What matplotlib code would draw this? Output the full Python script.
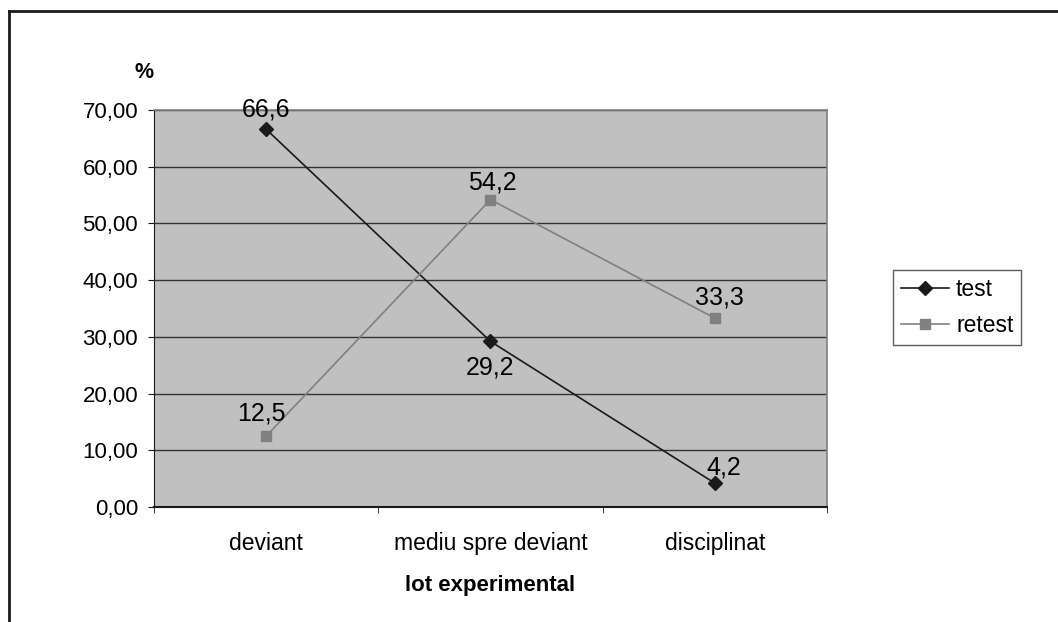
import numpy as np
import matplotlib
matplotlib.use("Agg")
from matplotlib import pyplot as plt
from matplotlib.lines import Line2D

categories = ["deviant", "mediu spre deviant", "disciplinat"]
test = [66.6, 29.2, 4.2]
retest = [12.5, 54.2, 33.3]
test_labels = ["66,6", "29,2", "4,2"]
retest_labels = ["12,5", "54,2", "33,3"]
yticks = [0, 10, 20, 30, 40, 50, 60, 70]

plt.rcParams['font.family'] = ['Liberation Sans', 'DejaVu Sans']

fig = plt.figure(figsize=(10.58, 6.22), dpi=100)
ax = fig.add_axes([154/1058, 1-507/622, 673/1058, 397/622])
ax.set_facecolor("#c0c0c0")

x = np.arange(len(categories))
ax.set_xlim(-0.5, 2.5)
ax.set_ylim(0, 70)

for v in yticks[1:]:
	ax.axhline(v, color="#333333", lw=1.0, zorder=1)

ax.plot(x, test, color="#1a1a1a", lw=1.2, marker="D", ms=7, zorder=3, label="test")
ax.plot(x, retest, color="#808080", lw=1.2, marker="s", ms=7, zorder=3, label="retest")

# data labels (offsets in points)
fs = 18
test_off = [(0, 14), (0, -19), (6.5, 11)]
retest_off = [(-3.5, 16), (1.4, 12), (3, 15)]
for i in range(3):
	ax.annotate(test_labels[i], (x[i], test[i]), xytext=test_off[i], textcoords="offset points", ha="center", va="center", fontsize=fs)
	ax.annotate(retest_labels[i], (x[i], retest[i]), xytext=retest_off[i], textcoords="offset points", ha="center", va="center", fontsize=fs)

ax.set_yticks(yticks)
ax.set_yticklabels(["%d,00" % v for v in yticks], fontsize=16)
ax.set_xticks(x)
ax.set_xticklabels(categories, fontsize=16.5)
ax.tick_params(axis="x", length=0, pad=18)
ax.set_xticks([-0.5, 0.5, 1.5, 2.5], minor=True)
ax.tick_params(axis="x", which="minor", length=4.5, direction="out", color="#1a1a1a")
ax.tick_params(axis="y", length=4.5, direction="out", color="#1a1a1a", pad=7)

for s in ["top", "right"]:
	ax.spines[s].set_color("#808080")
	ax.spines[s].set_linewidth(1.2)
ax.spines["left"].set_color("#1a1a1a")
ax.spines["bottom"].set_color("#1a1a1a")
ax.spines["bottom"].set_linewidth(1.5)

fig.text(144.5/1058, 1-73/622, "%", fontsize=15.5, fontweight="bold", ha="center", va="center")
fig.text(490/1058, 1-585/622, "lot experimental", fontsize=16, fontweight="bold", ha="center", va="center")

leg = ax.legend(loc="center left", bbox_to_anchor=(893/1058, 1-307.5/622), bbox_transform=fig.transFigure,
	fontsize=16.5, frameon=True, fancybox=False, edgecolor="#333333", borderpad=0.35,
	handlelength=2.1, handletextpad=0.3, labelspacing=0.55, borderaxespad=0)
leg.get_frame().set_linewidth(1.0)

# outer chart border (left and top only visible)
fig.add_artist(Line2D([8.5/1058, 8.5/1058], [0, 1-10.5/622], transform=fig.transFigure, color="#1a1a1a", lw=2))
fig.add_artist(Line2D([8.5/1058, 1], [1-10.5/622, 1-10.5/622], transform=fig.transFigure, color="#1a1a1a", lw=2))

fig.savefig("out.png", dpi=100, facecolor="white")
